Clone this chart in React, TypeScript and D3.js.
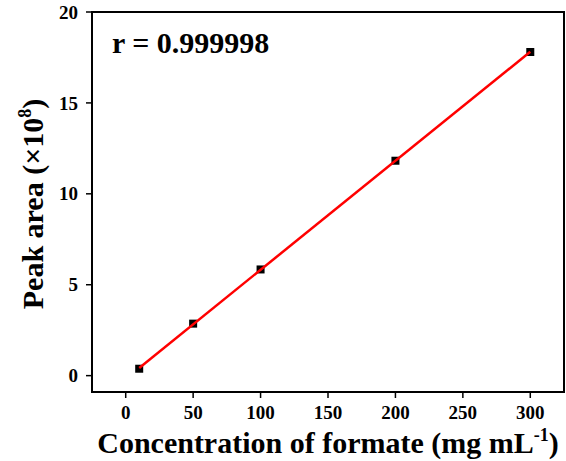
import React from "react";
import * as d3 from "d3";

// Calibration data: formate concentration (mg/mL) vs. peak area (×10^8)
const concentrations = [10, 50, 100, 200, 300];
const peakAreas = [0.38, 2.86, 5.84, 11.82, 17.8];
const xTicks = [0, 50, 100, 150, 200, 250, 300];
const yTicks = [0, 5, 10, 15, 20];
const rLabel = "r = 0.999998";

const W = 566;
const H = 461;
const margin = { left: 92, right: 2, top: 12, bottom: 69 };

export default function App() {
  const x = d3
    .scaleLinear()
    .domain([-25, 325])
    .range([margin.left, W - margin.right]);
  const y = d3
    .scaleLinear()
    .domain([-0.9, 20])
    .range([H - margin.bottom, margin.top]);

  // least-squares fit
  const mx = d3.mean(concentrations)!;
  const my = d3.mean(peakAreas)!;
  let sxy = 0;
  let sxx = 0;
  concentrations.forEach((c, i) => {
    sxy += (c - mx) * (peakAreas[i] - my);
    sxx += (c - mx) * (c - mx);
  });
  const slope = sxy / sxx;
  const intercept = my - slope * mx;
  const x0 = d3.min(concentrations)!;
  const x1 = d3.max(concentrations)!;
  const line = d3
    .line<number>()
    .x((d) => x(d))
    .y((d) => y(intercept + slope * d));

  const font = "'Liberation Serif', 'Times New Roman', serif";
  const [xl, xr] = x.range();
  const [yb, yt] = y.range();

  return (
    <svg
      width={W}
      height={H}
      style={{ position: "absolute", left: 0, top: 0, background: "#fff" }}
      fontFamily={font}
      fontWeight="bold"
    >
      {/* frame */}
      <rect
        x={xl}
        y={yt}
        width={xr - xl}
        height={yb - yt}
        fill="none"
        stroke="#000"
        strokeWidth={2}
      />
      {/* x axis ticks */}
      {xTicks.map((t) => (
        <g key={"x" + t}>
          <line x1={x(t)} x2={x(t)} y1={yb} y2={yb + 6} stroke="#000" strokeWidth={1.5} />
          <text x={x(t)} y={yb + 27} textAnchor="middle" fontSize={19}>
            {t}
          </text>
        </g>
      ))}
      {/* y axis ticks */}
      {yTicks.map((t) => (
        <g key={"y" + t}>
          <line x1={xl - 6} x2={xl} y1={y(t)} y2={y(t)} stroke="#000" strokeWidth={1.5} />
          <text x={xl - 14} y={y(t)} dy="0.35em" textAnchor="end" fontSize={19}>
            {t}
          </text>
        </g>
      ))}
      {/* data markers */}
      {concentrations.map((c, i) => (
        <rect
          key={"p" + i}
          x={x(c) - 4}
          y={y(peakAreas[i]) - 4}
          width={8}
          height={8}
          fill="#000"
        />
      ))}
      {/* fitted line */}
      <path d={line([x0, x1])!} fill="none" stroke="#ff0000" strokeWidth={2.5} />
      {/* correlation coefficient */}
      <text x={112} y={53} fontSize={30}>
        {rLabel}
      </text>
      {/* axis titles */}
      <text x={(xl + xr) / 2} y={453} textAnchor="middle" fontSize={30}>
        Concentration of formate (mg mL
        <tspan fontSize={18} dy={-12}>-1</tspan>
        <tspan dy={12}>)</tspan>
      </text>
      <text
        transform={`translate(43, ${(yt + yb) / 2 + 2}) rotate(-90)`}
        textAnchor="middle"
        fontSize={30}
      >
        Peak area (×10
        <tspan fontSize={18} dy={-12}>8</tspan>
        <tspan dy={12}>)</tspan>
      </text>
    </svg>
  );
}
